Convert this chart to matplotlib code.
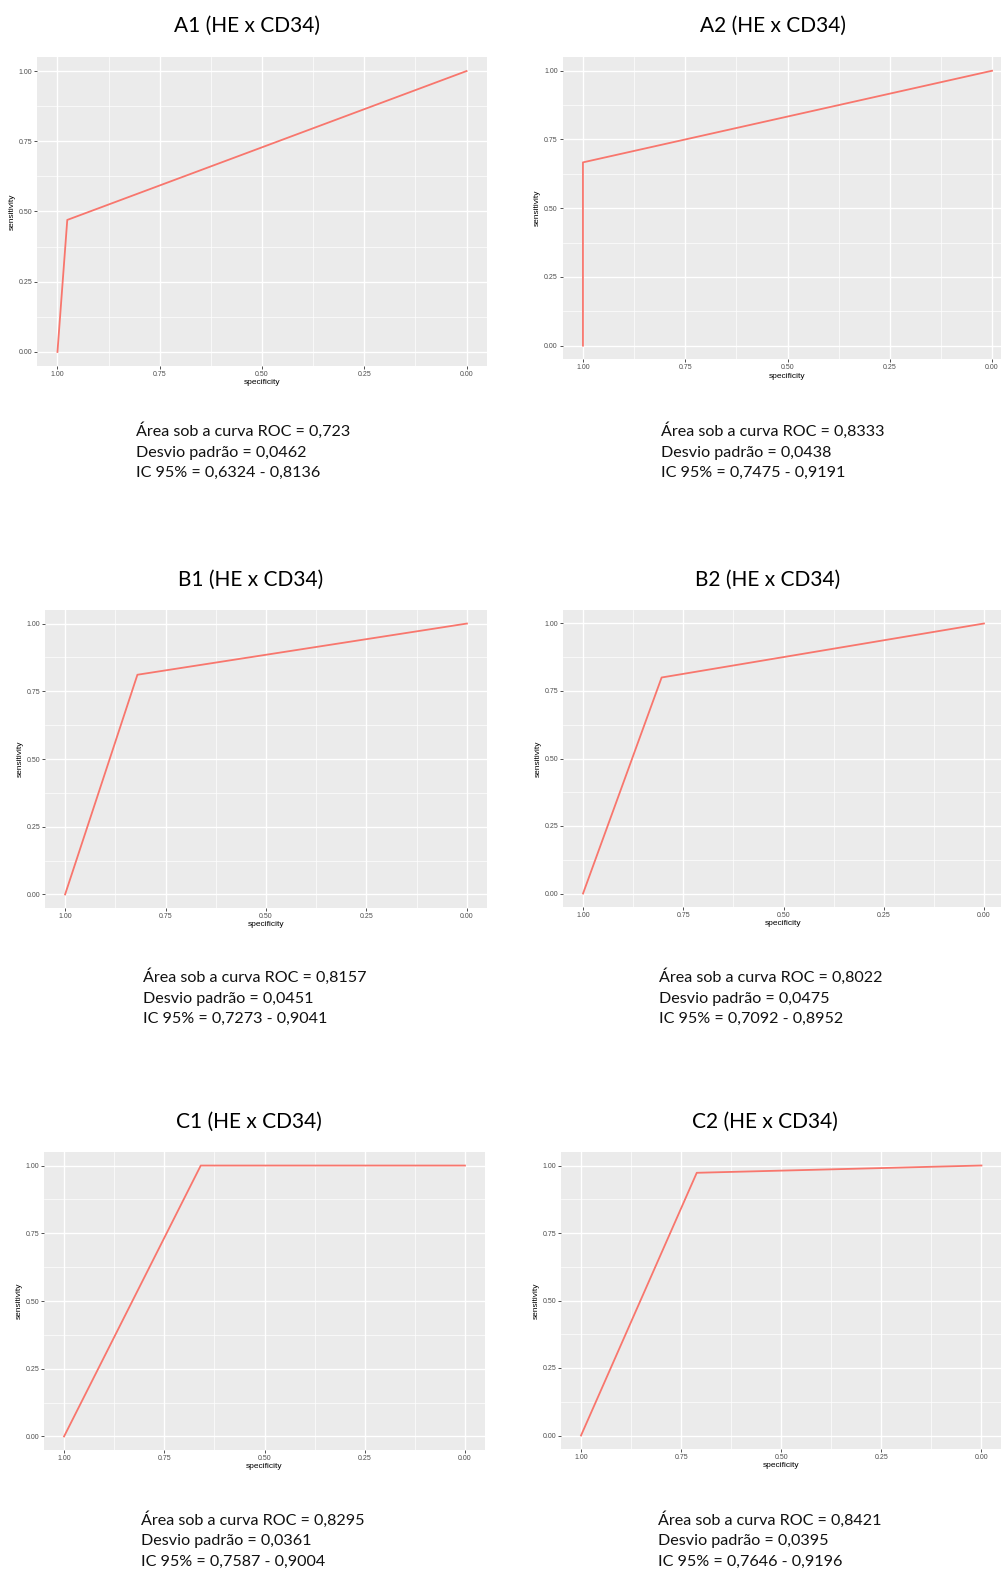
import matplotlib.pyplot as plt

# ROC curves (specificity decreasing on x, sensitivity on y)
titles = ["A1 (HE x CD34)", "A2 (HE x CD34)", "B1 (HE x CD34)",
          "B2 (HE x CD34)", "C1 (HE x CD34)", "C2 (HE x CD34)"]

spec_a1 = [1.0, 0.976, 0.0]
sens_a1 = [0.0, 0.470, 1.0]
spec_a2 = [1.0, 1.0, 0.0]
sens_a2 = [0.0, 0.6667, 1.0]
spec_b1 = [1.0, 0.820, 0.0]
sens_b1 = [0.0, 0.811, 1.0]
spec_b2 = [1.0, 0.804, 0.0]
sens_b2 = [0.0, 0.800, 1.0]
spec_c1 = [1.0, 0.659, 0.0]
sens_c1 = [0.0, 1.0, 1.0]
spec_c2 = [1.0, 0.711, 0.0]
sens_c2 = [0.0, 0.973, 1.0]

auc = ["0,723", "0,8333", "0,8157", "0,8022", "0,8295", "0,8421"]
dp = ["0,0462", "0,0438", "0,0451", "0,0475", "0,0361", "0,0395"]
ic = ["0,6324 - 0,8136", "0,7475 - 0,9191", "0,7273 - 0,9041",
      "0,7092 - 0,8952", "0,7587 - 0,9004", "0,7646 - 0,9196"]

curvas = [(spec_a1, sens_a1), (spec_a2, sens_a2), (spec_b1, sens_b1),
          (spec_b2, sens_b2), (spec_c1, sens_c1), (spec_c2, sens_c2)]

W, H = 1001, 1570
fig = plt.figure(figsize=(W / 100, H / 100), dpi=100)

# pixel layout: panel box (x0, x1, y0, y1), title centre/baseline, text left/baseline
paineis = [(37, 487, 57, 366), (562.5, 1012.5, 57, 359.4),
           (45, 487, 610, 908), (563, 1004, 610, 907),
           (44, 485, 1152, 1450), (561, 1001.5, 1152, 1449)]
tit_pos = [(247, 32), (773, 32), (251, 586), (768, 586), (249, 1128), (765, 1128)]
txt_pos = [(136, 436), (661, 436), (143, 982), (659, 982), (141, 1525), (658, 1525)]

ticks = [1.0, 0.75, 0.5, 0.25, 0.0]
tick_lab = ["1.00", "0.75", "0.50", "0.25", "0.00"]
minor = [0.875, 0.625, 0.375, 0.125]

for i in range(6):
    x0, x1, y0, y1 = paineis[i]
    ax = fig.add_axes([x0 / W, 1 - y1 / H, (x1 - x0) / W, (y1 - y0) / H])
    ax.set_facecolor("#EBEBEB")
    ax.set_xlim(1.05, -0.05)
    ax.set_ylim(-0.05, 1.05)
    ax.set_xticks(ticks)
    ax.set_xticklabels(tick_lab)
    ax.set_yticks(ticks)
    ax.set_yticklabels(tick_lab)
    ax.set_xticks(minor, minor=True)
    ax.set_yticks(minor, minor=True)
    ax.grid(which="major", color="white", lw=1.0)
    ax.grid(which="minor", color="white", lw=0.5)
    ax.set_axisbelow(True)
    for s in ax.spines.values():
        s.set_visible(False)
    ax.tick_params(which="minor", length=0)
    ax.tick_params(which="major", length=2, width=0.6, color="#333333",
                   labelsize=5, labelcolor="#4D4D4D", pad=1.5)
    for lab in ax.get_xticklabels() + ax.get_yticklabels():
        lab.set_family("Liberation Sans")
    ax.set_xlabel("specificity", fontsize=6, family="Liberation Sans", labelpad=1)
    ax.set_ylabel("sensitivity", fontsize=6, family="Liberation Sans", labelpad=2)

    esp, sen = curvas[i]
    ax.plot(esp, sen, color="#F8766D", lw=1.3)

    tx, ty = tit_pos[i]
    fig.text(tx / W, 1 - ty / H, titles[i], ha="center", va="baseline",
             fontsize=15, family="Lato")
    lx, ly = txt_pos[i]
    linhas = ["Área sob a curva ROC = " + auc[i],
              "Desvio padrão = " + dp[i],
              "IC 95% = " + ic[i]]
    for k, t in enumerate(linhas):
        fig.text(lx / W, 1 - (ly + 20.5 * k) / H, t, ha="left", va="baseline",
                 fontsize=11.6, family="Lato", color="#111111")

fig.savefig("out.png", dpi=100)
